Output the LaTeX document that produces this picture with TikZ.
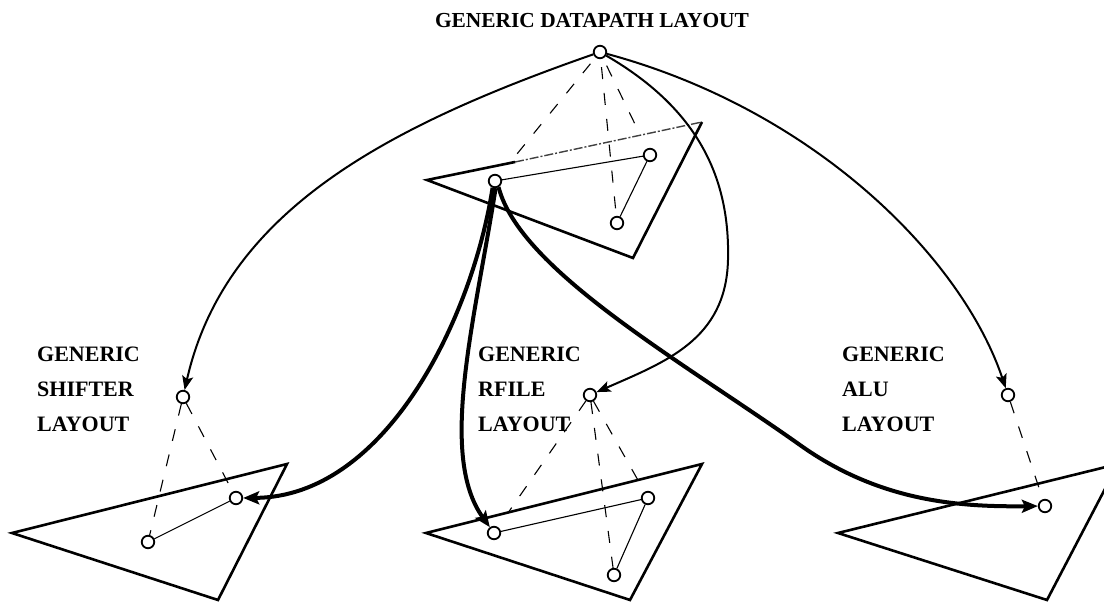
\documentclass[tikz,border=0pt]{standalone}
\usepackage{fontspec}
\setmainfont{Liberation Serif}
\usetikzlibrary{arrows.meta,calc}
\begin{document}
\begin{tikzpicture}[x=1pt,y=-1pt,
  dot/.style={circle,draw,line width=1.8pt,minimum size=12.5pt,inner sep=0pt,fill=white},
  tri/.style={line width=2.6pt,line join=miter},
  faded/.style={line width=1.4pt,dash pattern=on 9pt off 2pt on 2pt off 2pt,black!75},
  link/.style={line width=1.1pt},
  ghost/.style={line width=1.1pt,dash pattern=on 12pt off 14pt},
  ghosttop/.style={ghost,dash phase=18pt},
  thinarrow/.style={line width=2pt,-{Stealth[length=14pt,width=11pt,inset=3pt]}},
  thickarrow/.style={line width=4pt,-{Stealth[length=16pt,width=13pt,inset=3pt]}},
  lbl/.style={font=\bfseries\fontsize{22}{35}\selectfont,align=left,inner sep=0pt,anchor=north west}
]
\useasboundingbox (0,0) rectangle (1104,602);

% labels
\node[lbl,anchor=north,font=\bfseries\fontsize{21.4}{26}\selectfont] (title) at (592,13) {GENERIC DATAPATH LAYOUT};
\node[lbl] (shl) at (37,347) {GENERIC\\SHIFTER\\LAYOUT};
\node[lbl] (rfl) at (478,347) {GENERIC\\RFILE\\LAYOUT};
\node[lbl] (alul) at (842,347) {GENERIC\\ALU\\LAYOUT};

% triangles
\draw[tri] (515,162) -- (427,180) -- (633,258) -- (702,122);
\draw[faded] (515,162) -- (702,122);
\draw[tri] (12,533) -- (287,464) -- (218,600) -- cycle;
\draw[tri] (426,533) -- (702,464) -- (630,600) -- cycle;
\begin{scope}
\clip (0,0) rectangle (1104,602);
\draw[tri] (838,533) -- (1118,464) -- (1047,600) -- cycle;
\end{scope}

% nodes
\node[dot] (T) at (600,52) {};
\node[dot] (A) at (495,181) {};
\node[dot] (B) at (650,155) {};
\node[dot] (C) at (617,223) {};
\node[dot] (S) at (183,397) {};
\node[dot] (SL) at (148,542) {};
\node[dot] (SR) at (236,498) {};
\node[dot] (R) at (590,395) {};
\node[dot] (RL) at (494,533) {};
\node[dot] (RR) at (648,498) {};
\node[dot] (RB) at (614,575) {};
\node[dot] (AN) at (1008,395) {};
\node[dot] (AI) at (1045,506) {};

% inner solid links
\draw[link] (A) -- (B) -- (C);
\draw[link] (SL) -- (SR);
\draw[link] (RL) -- (RR) -- (RB);

% dashed hierarchy links
\draw[ghosttop] (T) -- ($(T)!0.85!(A)$);
\draw[ghosttop] (T) -- (C);
\draw[ghosttop] (T) -- ($(T)!0.78!(B)$);
\draw[ghost] (S) -- (SL);
\draw[ghost] (S) -- (SR);
\draw[ghost] (R) -- ($(R)!0.86!(RL)$);
\draw[ghost] (R) -- (RB);
\draw[ghost] (R) -- (RR);
\draw[ghost] (AN) -- (AI);

% thin arrows from datapath root
\draw[thinarrow] (T) .. controls (385,127) and (225,212) .. (S);
\draw[thinarrow] (T) .. controls (815,110) and (962,258) .. (AN);
\draw[thinarrow] (T) .. controls (700,110) and (730,180) .. (728,260)
   .. controls (726,340) and (665,362) .. (R);

% thick arrows from A
\draw[thickarrow] (A.250) .. controls (472,320) and (385,497) .. (SR);
\draw[thickarrow] (A.275) .. controls (475,320) and (438,455) .. (RL);
\draw[thickarrow] (A.300) .. controls (520,270) and (680,360) .. (800,445)
   .. controls (880,502) and (960,507) .. (AI);
\end{tikzpicture}
\end{document}
